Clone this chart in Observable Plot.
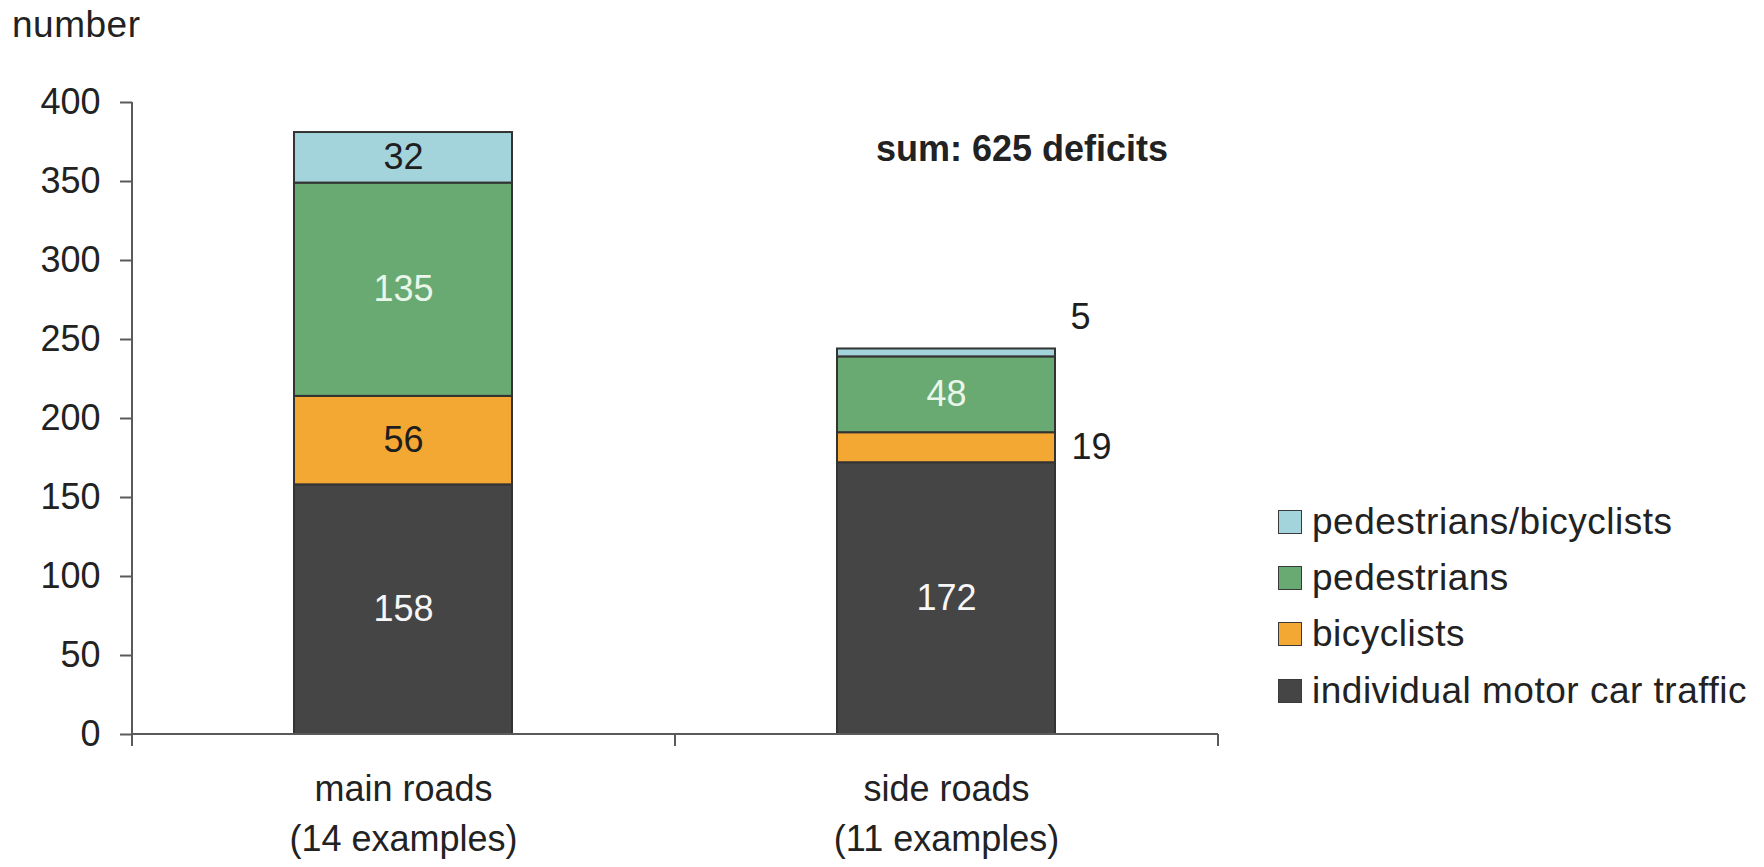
<!DOCTYPE html>
<html>
<head>
<meta charset="utf-8">
<script src="https://cdn.jsdelivr.net/npm/d3@7"></script>
<script src="https://cdn.jsdelivr.net/npm/@observablehq/plot@0.6"></script>
<style>
  html, body { margin: 0; padding: 0; background: #fff; }
  #wrap { position: relative; width: 1764px; height: 867px; font-family: "Liberation Sans", Arial, sans-serif; color: #222; }
  #wrap svg { position: absolute; left: 0; top: 0; }
  .ylabel { position: absolute; left: 12px; top: 6px; font-size: 37px; line-height: 1; letter-spacing: 0.5px; }
  .sum { position: absolute; left: 876px; top: 131px; font-size: 36px; line-height: 1; font-weight: bold; }
  .legend { position: absolute; left: 1278px; top: 494px; }
  .legend .row { display: flex; align-items: center; height: 56.2px; font-size: 37px; letter-spacing: 0.5px; white-space: nowrap; }
  .legend .sw { width: 22px; height: 22px; border: 1.5px solid #3a3a3a; margin-right: 10px; box-sizing: content-box; }
</style>
</head>
<body>
<div id="wrap"></div>
<script>
// ---- data ----
const roads = ["main roads", "side roads"];
const roadNotes = ["(14 examples)", "(11 examples)"];
const types = ["individual motor car traffic", "bicyclists", "pedestrians", "pedestrians/bicyclists"];
const motorCar = [158, 172];
const bicyclists = [56, 19];
const pedestrians = [135, 48];
const pedBic = [32, 5];
const yTicks = [0, 50, 100, 150, 200, 250, 300, 350, 400];
const legendOrder = ["pedestrians/bicyclists", "pedestrians", "bicyclists", "individual motor car traffic"];

// ---- styles ----
const colors = ["#454545", "#f4a834", "#69a972", "#a3d3db"];
const labelColors = ["#f7f7f7", "#1e1e1e", "#e9f7ea", "#1e1e1e"];

const seriesValues = [motorCar, bicyclists, pedestrians, pedBic];
const table = types.flatMap((t, i) => roads.map((r, j) => ({road: r, type: t, value: seriesValues[i][j]})));
const total = d3.sum(table, d => d.value);
const labelColor = new Map(types.map((t, i) => [t, labelColors[i]]));
const isOutside = d => d.value < 25;

function axisFrame(index, scales, values, dims) {
  const step = (dims.width - dims.marginLeft - dims.marginRight) / roads.length;
  const y0 = scales.y(0);
  const yTop = scales.y(d3.max(yTicks));
  const g = d3.create("svg:g").attr("stroke", "#5a5a5a").attr("stroke-width", 2).attr("fill", "none");
  g.append("line").attr("x1", dims.marginLeft).attr("x2", dims.marginLeft).attr("y1", yTop).attr("y2", y0);
  g.append("line").attr("x1", dims.marginLeft).attr("x2", dims.width - dims.marginRight).attr("y1", y0).attr("y2", y0);
  d3.range(roads.length + 1).forEach(i => {
    const x = dims.marginLeft + i * step;
    g.append("line").attr("x1", x).attr("x2", x).attr("y1", y0).attr("y2", y0 + 12);
  });
  return g.node();
}

const stackOpts = {x: "road", y: "value", z: "type", order: types};

const plot = Plot.plot({
  width: 1764,
  height: 867,
  marginLeft: 132,
  marginRight: 546,
  marginTop: 102,
  marginBottom: 133,
  style: {fontFamily: '"Liberation Sans", Arial, sans-serif', color: "#222", background: "transparent"},
  x: {domain: roads, paddingInner: 0.598, paddingOuter: 0.299, label: null},
  y: {domain: [0, 400], label: null},
  color: {domain: types, range: colors},
  marks: [
    Plot.barY(table, Plot.stackY({...stackOpts, fill: "type", stroke: "#333", strokeWidth: 2})),
    Plot.text(table, Plot.stackY({...stackOpts, text: d => isOutside(d) ? "" : String(d.value), fill: d => labelColor.get(d.type), fontSize: 36})),
    Plot.text(table, Plot.stackY({...stackOpts, text: d => isOutside(d) && d.value >= 10 ? String(d.value) : "", fill: "#1e1e1e", fontSize: 36, textAnchor: "start", dx: 125})),
    Plot.text(table, Plot.stackY2({...stackOpts, text: d => d.value < 10 ? String(d.value) : "", fill: "#1e1e1e", fontSize: 36, textAnchor: "start", dx: 124, dy: -32})),
    axisFrame,
    Plot.axisY({ticks: yTicks, tickSize: 12, tickPadding: 20, fontSize: 36, stroke: "#5a5a5a", strokeWidth: 2, fill: "#222", label: null}),
    Plot.axisX({tickSize: 0, tickPadding: 41, fontSize: 36, fill: "#222", label: null, tickFormat: d => d}),
    Plot.axisX({tickSize: 0, tickPadding: 91, fontSize: 36, fill: "#222", label: null, tickFormat: d => roadNotes[roads.indexOf(d)]})
  ]
});

const wrap = document.getElementById("wrap");
wrap.appendChild(plot);

const yl = document.createElement("div");
yl.className = "ylabel";
yl.textContent = "number";
wrap.appendChild(yl);

const sum = document.createElement("div");
sum.className = "sum";
sum.textContent = `sum: ${total} deficits`;
wrap.appendChild(sum);

const legend = document.createElement("div");
legend.className = "legend";
legendOrder.forEach(t => {
  const row = document.createElement("div");
  row.className = "row";
  const sw = document.createElement("span");
  sw.className = "sw";
  sw.style.background = colors[types.indexOf(t)];
  row.appendChild(sw);
  const tx = document.createElement("span");
  tx.textContent = t;
  row.appendChild(tx);
  legend.appendChild(row);
});
wrap.appendChild(legend);
</script>
</body>
</html>
